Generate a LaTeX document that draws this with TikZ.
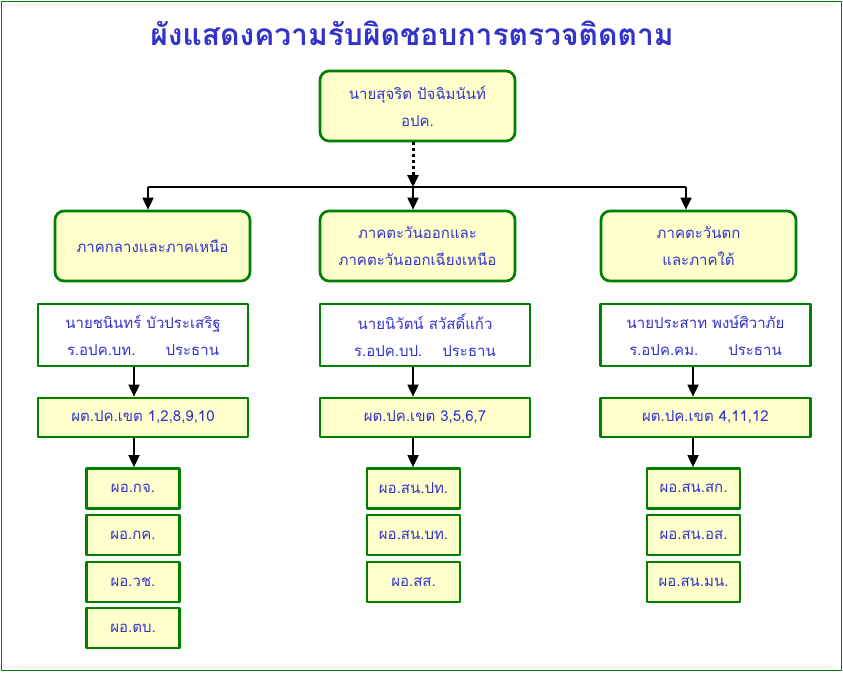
\documentclass[tikz,border=0pt]{standalone}
\usepackage{fontspec}
\newfontfamily\thaifont[Script=Thai]{Loma}
\usetikzlibrary{positioning,calc,arrows.meta}
\definecolor{boxgreen}{RGB}{0,128,0}
\definecolor{boxfill}{RGB}{255,255,204}
\definecolor{txtblue}{RGB}{51,51,204}

\begin{document}
\begin{tikzpicture}[x=1pt, y=-1pt, >={Triangle[length=12pt,width=11pt]}, line join=round,
  font=\thaifont\fontsize{15}{27}\selectfont,
  box/.style={draw=boxgreen, line width=2.7pt, fill=boxfill, text=txtblue, align=center, inner sep=2pt},
  headbox/.style={box, rounded corners=9pt, minimum width=195pt, minimum height=70pt},
  personbox/.style={box, fill=white, minimum width=210pt, minimum height=62pt},
  zonebox/.style={box, minimum width=210pt, minimum height=39pt},
  unitbox/.style={box, minimum width=93pt, minimum height=40pt},
  link/.style={->, line width=1.8pt}]
  \useasboundingbox (0,0) rectangle (843,672);
  \draw[boxgreen, line width=1.2pt] (1.5,1.5) rectangle (841.5,670.5);
  \node[text=txtblue, font=\thaifont\bfseries\fontsize{30}{32}\selectfont] (title) at (412,33) {ผังแสดงความรับผิดชอบการตรวจติดตาม};
  % top
  \node[headbox] (chief) at (417.5,106) {นายสุจริต ปัจฉิมนันท์\\อปค.};
  % regions
  \node[headbox] (central) at (152.5,246) {ภาคกลางและภาคเหนือ};
  \node[headbox] (east) at (417.5,246) {ภาคตะวันออกและ\\ภาคตะวันออกเฉียงเหนือ};
  \node[headbox] (west) at (698.5,246) {ภาคตะวันตก\\และภาคใต้};
  \coordinate (busL) at (148,187);
  \coordinate (busM) at (413,187);
  \coordinate (busR) at (686,187);
  \draw[line width=3pt, dash pattern=on 3pt off 3pt, ->] (chief.south -| busM) -- (busM);
  \draw[line width=1.8pt] (busL) -- (busR);
  \draw[link] (busL) -- (central.north -| busL);
  \draw[link] (busM) -- (east.north -| busM);
  \draw[link] (busR) -- (west.north -| busR);
  % chairs
  \node[personbox] (chairL) at (143,335) {นายชนินทร์ บัวประเสริฐ\\ร.อปค.บท.\qquad ประธาน};
  \node[personbox] (chairM) at (425,335) {นายนิวัตน์ สวัสดิ์แก้ว\\ร.อปค.บป.\quad\ ประธาน};
  \node[personbox] (chairR) at (705.5,335) {นายประสาท พงษ์ศิวาภัย\\ร.อปค.คม.\qquad ประธาน};
  % zones
  \node[zonebox] (zoneL) at (143,417.5) {ผต.ปค.เขต 1,2,8,9,10};
  \node[zonebox] (zoneM) at (425,417.5) {ผต.ปค.เขต 3,5,6,7};
  \node[zonebox] (zoneR) at (705.5,417.5) {ผต.ปค.เขต 4,11,12};
  \coordinate (colL) at (134,0);
  \coordinate (colM) at (413,0);
  \coordinate (colR) at (693,0);
  \draw[link] (chairL.south -| colL) -- (zoneL.north -| colL);
  \draw[link] (chairM.south -| colM) -- (zoneM.north -| colM);
  \draw[link] (chairR.south -| colR) -- (zoneR.north -| colR);
  % units
  \node[unitbox] (gj) at (133,488.5) {ผอ.กจ.};
  \node[unitbox] (gk) at (133,535) {ผอ.กค.};
  \node[unitbox] (wc) at (133,582) {ผอ.วช.};
  \node[unitbox] (tb) at (133,628) {ผอ.ตบ.};
  \node[unitbox] (snpt) at (413.5,488.5) {ผอ.สน.ปท.};
  \node[unitbox] (snbt) at (413.5,535) {ผอ.สน.บท.};
  \node[unitbox] (ss) at (413.5,582) {ผอ.สส.};
  \node[unitbox] (snsk) at (693.5,488.5) {ผอ.สน.สก.};
  \node[unitbox] (snos) at (693.5,535) {ผอ.สน.อส.};
  \node[unitbox] (snmn) at (693.5,582) {ผอ.สน.มน.};
  \draw[link] (zoneL.south -| colL) -- (gj.north -| colL);
  \draw[link] (zoneM.south -| colM) -- (snpt.north -| colM);
  \draw[link] (zoneR.south -| colR) -- (snsk.north -| colR);
\end{tikzpicture}
\end{document}
